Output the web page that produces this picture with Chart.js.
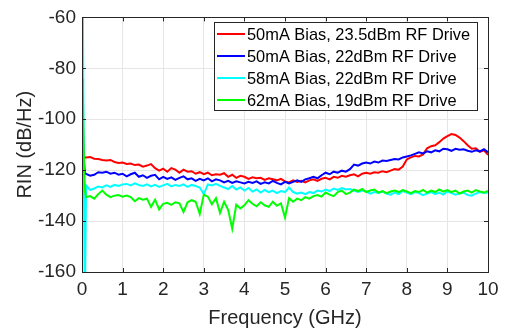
<!DOCTYPE html>
<html>
<head>
<meta charset="utf-8">
<script src="https://cdn.jsdelivr.net/npm/chart.js@4.4.0/dist/chart.umd.min.js"></script>
<style>
  html, body { margin: 0; padding: 0; background: #fff; }
  #wrap { width: 505px; height: 330px; }
</style>
</head>
<body>
<div id="wrap"><canvas id="rin" width="505" height="330"></canvas></div>
<script>
// frequency grid (GHz): a few points right at DC, then 0.1 GHz steps
const freqStart = [0, 0.02, 0.04, 0.07];
const freqMain = Array.from({ length: 100 }, (_, i) => +(0.1 + i * 0.1).toFixed(1));
const freq = freqStart.concat(freqMain);

const labels = [
  '50mA Bias, 23.5dBm RF Drive',
  '50mA Bias, 22dBm RF Drive',
  '58mA Bias, 22dBm RF Drive',
  '62mA Bias, 19dBm RF Drive'
];

// RIN in dB/Hz
const rinRed = [-113, -114, -114.5, -115,
  -115.0, -114.8, -115.5, -115.6, -116.0, -116.2, -116.0, -116.8, -117.2, -117.0,
  -117.6, -117.4, -118.0, -117.8, -118.6, -118.2, -117.6, -119.2, -120.2, -119.4,
  -120.6, -119.2, -119.8, -121.0, -119.8, -120.6, -120.4, -121.4, -120.8, -121.6,
  -121.0, -122.0, -121.6, -121.8, -121.2, -122.6, -121.8, -123.0, -122.2, -122.6,
  -123.4, -122.8, -123.2, -123.0, -123.8, -123.2, -123.6, -124.0, -123.4, -124.4,
  -124.8, -124.0, -124.6, -124.2, -124.8, -124.0, -123.6, -124.2, -123.4, -123.0,
  -123.6, -122.6, -123.0, -122.2, -122.6, -122.0, -121.6, -122.4, -121.4, -121.0,
  -121.4, -120.8, -121.0, -120.4, -120.8, -120.2, -119.6, -119.8, -118.6, -115.8,
  -115.0, -114.4, -114.6, -113.8, -111.4, -110.6, -110.2, -109.0, -107.6, -106.6,
  -105.8, -106.2, -107.2, -108.6, -110.2, -111.6, -111.4, -112.8, -112.2, -114.0];

const rinBlue = [-85, -100, -115, -121,
  -121.5, -122.2, -121.8, -120.8, -121.0, -120.6, -121.4, -121.0, -121.8, -121.4,
  -122.4, -121.6, -121.0, -122.6, -122.0, -123.0, -122.2, -121.8, -123.6, -122.6,
  -123.4, -122.8, -123.8, -123.0, -122.4, -123.6, -123.2, -124.2, -123.4, -124.0,
  -123.2, -124.4, -123.6, -124.0, -124.8, -124.2, -125.0, -124.4, -124.8, -125.2,
  -124.6, -125.0, -124.4, -125.4, -124.8, -125.2, -124.2, -125.0, -125.6, -124.6,
  -125.2, -124.6, -124.0, -124.6, -123.6, -123.2, -122.6, -123.2, -122.0, -121.0,
  -121.6, -120.6, -121.0, -120.2, -120.6, -119.6, -117.8, -118.2, -117.4, -117.0,
  -117.4, -116.6, -117.0, -116.2, -116.4, -116.0, -115.6, -115.8, -115.0, -114.6,
  -114.2, -113.6, -113.0, -113.4, -112.6, -113.0, -112.2, -112.6, -111.6, -111.8,
  -112.4, -111.6, -112.0, -111.8, -112.4, -112.8, -112.2, -112.6, -111.8, -113.0];

const rinCyan = [-85, -50, -110, -175,
  -126.0, -127.8, -127.2, -126.4, -126.8, -126.0, -126.6, -125.8, -126.2, -125.6,
  -125.4, -126.0, -125.2, -125.8, -126.2, -125.6, -126.4, -125.8, -126.6, -126.0,
  -125.4, -126.4, -125.8, -126.2, -125.6, -126.6, -125.8, -126.2, -126.8, -129.4,
  -125.6, -126.0, -125.4, -126.2, -126.8, -127.4, -126.2, -127.6, -126.8, -128.0,
  -127.0, -128.4, -127.6, -128.8, -127.8, -128.6, -128.0, -129.0, -128.2, -128.6,
  -126.8, -128.6, -129.2, -128.8, -129.4, -128.6, -129.0, -128.0, -128.4, -127.6,
  -128.2, -127.2, -127.8, -127.0, -127.6, -127.4, -128.0, -128.6, -128.0, -128.4,
  -129.2, -128.6, -129.0, -128.4, -129.2, -129.6, -128.8, -129.4, -128.2, -128.8,
  -129.4, -128.6, -129.0, -129.8, -129.2, -128.6, -129.4, -128.8, -129.6, -128.4,
  -129.0, -129.6, -129.2, -128.8, -129.8, -130.0, -129.2, -128.6, -129.0, -128.8];

const rinGreen = [-84, -88, -110, -128,
  -130.6, -130.2, -131.2, -129.4, -128.0, -129.6, -130.6, -130.0, -129.8, -130.4,
  -130.0, -130.6, -132.2, -131.0, -131.6, -131.2, -134.4, -131.6, -135.4, -133.2,
  -132.8, -133.6, -132.6, -133.0, -136.4, -132.6, -131.8, -132.4, -137.2, -129.6,
  -130.4, -133.4, -131.0, -136.8, -132.4, -135.6, -143.0, -133.6, -135.0, -133.8,
  -131.8, -133.2, -134.2, -132.6, -133.8, -134.4, -132.4, -134.0, -133.0, -138.6,
  -131.0, -132.4, -131.2, -131.8, -130.6, -131.2, -130.2, -129.8, -130.4, -128.8,
  -129.6, -130.2, -128.6, -128.0, -129.4, -128.8, -127.6, -128.2, -127.4, -128.6,
  -128.0, -127.6, -128.8, -128.2, -129.0, -128.4, -128.0, -128.6, -127.8, -128.4,
  -129.0, -128.2, -128.6, -127.8, -128.8, -128.0, -128.6, -127.6, -128.4, -127.8,
  -128.6, -128.0, -129.2, -128.4, -128.0, -128.8, -127.8, -128.4, -128.8, -128.2];

const series = [rinRed, rinBlue, rinCyan, rinGreen];
const colors = ['#ff0000', '#0000ff', '#00ffff', '#00ff00'];

const xTicks = [0, 1, 2, 3, 4, 5, 6, 7, 8, 9, 10];
const yTicks = [-160, -140, -120, -100, -80, -60];

const FONT = '"Liberation Sans", Arial, Helvetica, sans-serif';
const AXIS = '#262626';

// MATLAB style box, inward ticks and the in-plot legend
const matlabBox = {
  id: 'matlabBox',
  afterDraw(chart) {
    const { ctx, chartArea: a, scales } = chart;
    ctx.save();
    ctx.strokeStyle = AXIS;
    ctx.lineWidth = 1;
    ctx.beginPath();
    xTicks.forEach(v => {
      const px = Math.round(scales.x.getPixelForValue(v)) + 0.5;
      ctx.moveTo(px, a.bottom); ctx.lineTo(px, a.bottom - 4);
      ctx.moveTo(px, a.top); ctx.lineTo(px, a.top + 4);
    });
    yTicks.forEach(v => {
      const py = Math.round(scales.y.getPixelForValue(v)) + 0.5;
      ctx.moveTo(a.left, py); ctx.lineTo(a.left + 4, py);
      ctx.moveTo(a.right, py); ctx.lineTo(a.right - 4, py);
    });
    ctx.stroke();
    ctx.strokeRect(Math.round(a.left) + 0.5, Math.round(a.top) + 0.5,
      Math.round(a.right - a.left), Math.round(a.bottom - a.top));

    // legend
    const bx = 214.5, by = 22.5, bw = 263, bh = 88;
    ctx.fillStyle = '#fff';
    ctx.fillRect(bx, by, bw, bh);
    ctx.strokeStyle = AXIS;
    ctx.strokeRect(bx, by, bw, bh);
    ctx.font = '16.4px ' + FONT;
    ctx.textBaseline = 'middle';
    chart.data.datasets.forEach((ds, i) => {
      const y = 34 + i * 22;
      ctx.strokeStyle = ds.borderColor;
      ctx.lineWidth = 2;
      ctx.beginPath();
      ctx.moveTo(217, y); ctx.lineTo(245, y);
      ctx.stroke();
      ctx.fillStyle = '#000';
      ctx.fillText(ds.label, 247, y + 1);
    });
    ctx.restore();
  }
};

new Chart(document.getElementById('rin'), {
  type: 'line',
  data: {
    datasets: series.map((vals, i) => ({
      label: labels[i],
      data: vals.map((v, j) => ({ x: freq[j], y: v })),
      borderColor: colors[i],
      borderWidth: 2,
      pointRadius: 0,
      tension: 0,
      fill: false,
      order: 4 - i
    }))
  },
  options: {
    responsive: false,
    animation: false,
    layout: { padding: { top: 12, right: 17, left: 0, bottom: 0 } },
    plugins: { legend: { display: false }, tooltip: { enabled: false } },
    scales: {
      x: {
        type: 'linear',
        min: 0, max: 10,
        afterBuildTicks: s => { s.ticks = xTicks.map(v => ({ value: v })); },
        afterFit: s => { s.height = 58; },
        grid: { color: '#e6e6e6', drawTicks: false },
        border: { display: false },
        ticks: { padding: 6, color: AXIS, font: { family: FONT, size: 19 } },
        title: {
          display: true, text: 'Frequency (GHz)', color: AXIS,
          font: { family: FONT, size: 20 }, padding: { top: 0, bottom: 0 }
        }
      },
      y: {
        min: -160, max: -60,
        afterBuildTicks: s => { s.ticks = yTicks.map(v => ({ value: v })); },
        afterFit: s => { s.width = 82; },
        grid: { color: '#e6e6e6', drawTicks: false },
        border: { display: false },
        ticks: { padding: 6, color: AXIS, font: { family: FONT, size: 19 } },
        title: {
          display: true, text: 'RIN (dB/Hz)', color: AXIS,
          font: { family: FONT, size: 20 }, padding: { top: 13, bottom: 0 }
        }
      }
    }
  },
  plugins: [matlabBox]
});
</script>
</body>
</html>
